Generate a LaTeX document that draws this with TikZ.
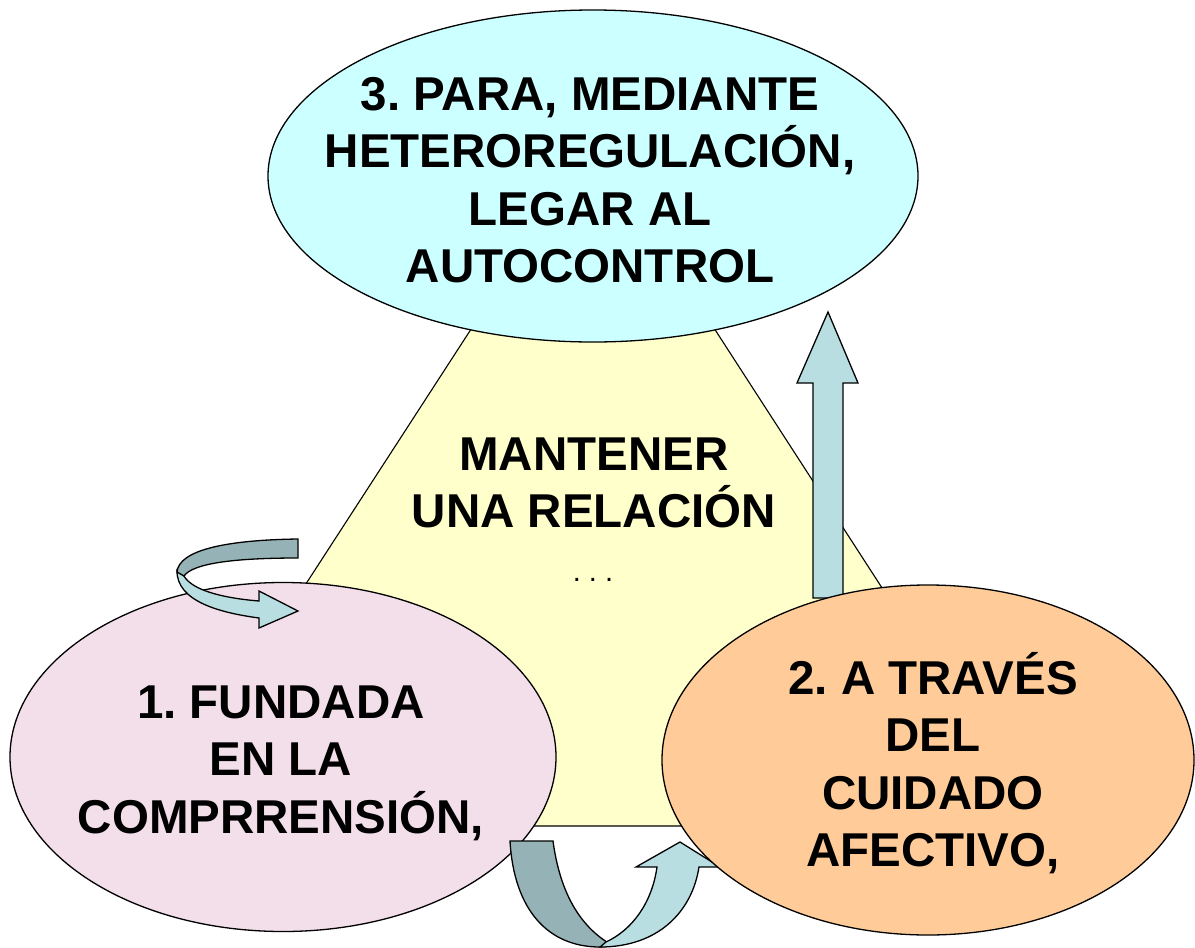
\documentclass[tikz,border=0pt]{standalone}
\usepackage{fontspec}
\setmainfont{Liberation Sans}
\usetikzlibrary{shapes,arrows,positioning}
\definecolor{celeste}{HTML}{CCFFFF}
\definecolor{crema}{HTML}{FFFFCC}
\definecolor{rosa}{HTML}{F3DFEA}
\definecolor{naranja}{HTML}{FFCC99}
\definecolor{azulclaro}{HTML}{B8DEE2}
\definecolor{azuloscuro}{HTML}{95B2B6}
\frenchspacing
\begin{document}
\begin{tikzpicture}[x=1pt,y=-1pt]

  \tikzset{main node/.style={ellipse, draw, line width=1.3pt,
  		inner sep=0pt}, }
  \tikzset{main text/.style={text centered, align=center,
  		font=\fontsize{47.5}{57.5}\selectfont\bfseries}, }
  \tikzset{flecha/.style={draw, line width=1.3pt, fill=azulclaro}, }
  \useasboundingbox (0,0) rectangle (1195,948);
  % triangulo del fondo
  \draw[fill=crema, line width=1.1pt] (149,826) -- (593,141) -- (1036,826) -- cycle;
    \node[main text] (4) at (594,483) {MANTENER\\UNA RELACIÓN};
    \node[font=\fontsize{29}{30}\selectfont] (5) at (593,580) {. . .};
  % flecha hacia arriba
  \draw[flecha] (813,598) -- (813,383) -- (797,383) -- (828,312)
    -- (858,383) -- (843,383) -- (843,598) -- cycle;
    \node[main node, fill=celeste, minimum width=650pt, minimum height=332pt] (3) at (593,176) {};
    \node[main node, fill=rosa, minimum width=546pt, minimum height=349pt] (1) at (283,757) {};
  % flecha en U
  \draw[flecha, fill=azuloscuro] (510,841) -- (553,841)
    .. controls (560,893) and (580,926) .. (610,944)
    .. controls (604,947) .. (600,947)
    .. controls (548,947) and (514,910) .. (510,841) -- cycle;
  \draw[flecha] (600,947) .. controls (658,947) and (692,912) .. (699,867)
    -- (720,867) -- (680,842) -- (636,867) -- (657,867)
    .. controls (652,903) and (632,930) .. (606,942) -- cycle;
    \node[main node, fill=naranja, minimum width=532pt, minimum height=350pt] (2) at (928,760) {};
  % flecha curva de arriba
  \draw[flecha] (177,570) .. controls (176,602) and (222,613) .. (259,618)
    -- (259,628) -- (298,611) -- (259,591) -- (259,601)
    .. controls (222,598) and (192,590) .. (184,576) -- cycle;
  \draw[flecha, fill=azuloscuro] (298,539) -- (298,558)
    .. controls (236,558) and (193,563) .. (184,576) -- (177,572)
    .. controls (179,550) and (226,540) .. (298,539) -- cycle;
  % textos
    \node[main text] (t3) at (3) [xshift=-3pt, yshift=-4pt] {3. PARA, MEDIANTE\\HETEROREGULACIÓN,\\LEGAR AL\\AUTOCONTROL};
    \node[main text] (t1) at (1) [xshift=-2pt, yshift=-6pt] {1. FUNDADA\\EN LA\\COMPRRENSIÓN,};
    \node[main text] (t2) at (2) [xshift=5pt, yshift=-3pt] {2. A TRAVÉS\\DEL\\CUIDADO\\AFECTIVO,};
%%
\end{tikzpicture}
\end{document}
